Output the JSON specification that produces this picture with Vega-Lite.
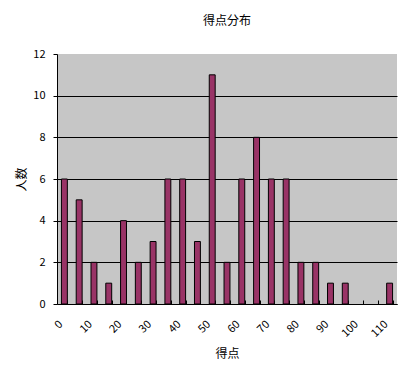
{
  "$schema": "https://vega.github.io/schema/vega-lite/v6.json",
  "width": 340,
  "height": 250,
  "padding": {"left": 15, "top": 15, "right": 10, "bottom": 5},
  "background": "white",
  "title": {"text": "得点分布", "font": "Noto Sans CJK JP", "fontSize": 12, "fontWeight": "normal", "color": "black", "offset": 20},
  "data": {"values": [
    {"score": 0, "count": 6}, {"score": 5, "count": 5}, {"score": 10, "count": 2}, {"score": 15, "count": 1},
    {"score": 20, "count": 4}, {"score": 25, "count": 2}, {"score": 30, "count": 3}, {"score": 35, "count": 6},
    {"score": 40, "count": 6}, {"score": 45, "count": 3}, {"score": 50, "count": 11}, {"score": 55, "count": 2},
    {"score": 60, "count": 6}, {"score": 65, "count": 8}, {"score": 70, "count": 6}, {"score": 75, "count": 6},
    {"score": 80, "count": 2}, {"score": 85, "count": 2}, {"score": 90, "count": 1}, {"score": 95, "count": 1},
    {"score": 100, "count": 0}, {"score": 105, "count": 0}, {"score": 110, "count": 1}
  ]},
  "mark": {"type": "bar", "fill": "#993366", "stroke": "black", "strokeWidth": 1},
  "encoding": {
    "x": {"field": "score", "type": "ordinal", "title": "得点",
      "scale": {"paddingInner": 0.6, "paddingOuter": 0.3},
      "axis": {"labelAngle": -45, "labelExpr": "datum.value % 10 == 0 ? datum.label : ''",
        "tickBand": "extent", "tickSize": -4, "tickColor": "black", "domainColor": "black",
        "labelFont": "Noto Sans CJK JP", "labelFontSize": 11, "labelColor": "black", "labelPadding": 18, "labelOffset": -8,
        "titleFont": "Noto Sans CJK JP", "titleFontSize": 12, "titleFontWeight": "normal", "titleColor": "black", "titlePadding": 10}},
    "y": {"field": "count", "type": "quantitative", "title": "人数",
      "scale": {"domain": [0, 12]},
      "axis": {"values": [0, 2, 4, 6, 8, 10, 12], "grid": true, "gridColor": "black",
        "gridOpacity": {"condition": {"test": "datum.value == 12", "value": 0}, "value": 1},
        "tickColor": "black", "tickSize": 4, "domainColor": "black",
        "labelFont": "Noto Sans CJK JP", "labelFontSize": 11, "labelColor": "black", "labelPadding": 8,
        "titleFont": "Noto Sans CJK JP", "titleFontSize": 12, "titleFontWeight": "normal", "titleColor": "black", "titlePadding": 4}},
    "opacity": {"condition": {"test": "datum.count == 0", "value": 0}, "value": 1}
  },
  "config": {
    "view": {"fill": "#c6c6c6", "stroke": null}
  }
}
